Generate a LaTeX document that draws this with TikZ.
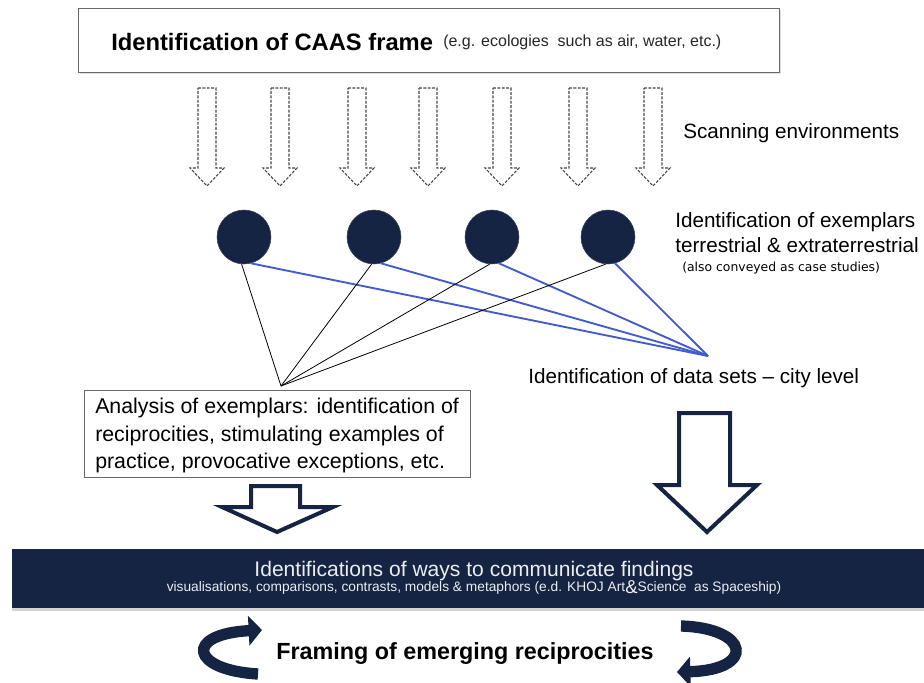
\documentclass[tikz,border=0pt]{standalone}
\usepackage{fontspec}
\setmainfont{Liberation Sans}
\newfontfamily\dejavu{DejaVu Sans}
\usetikzlibrary{arrows.meta,shadows}
\definecolor{navy}{RGB}{20,36,66}
\definecolor{linkblue}{RGB}{66,92,205}
\definecolor{boxgray}{RGB}{105,105,105}
\begin{document}
\begin{tikzpicture}[x=0.75pt,y=-0.75pt,
  framebox/.style={draw=boxgray,line width=1.1pt,fill=white,inner sep=0pt},
  scanarrow/.style={draw=gray!55!black,dash pattern=on 2.2pt off 1.1pt,line width=0.8pt,fill=white},
  exemplar/.style={circle,fill=navy,draw=navy!85,minimum size=40.5pt,inner sep=0pt},
  blackline/.style={draw=black,line width=0.6pt},
  blueline/.style={draw=linkblue,line width=1.4pt},
  blockarrow/.style={draw=navy,line width=3pt,fill=white,line join=miter},
  curvearrow/.style={draw=navy,line width=8.5pt,-{Triangle[length=10pt,width=22pt]}},
  lbl/.style={inner sep=0pt,anchor=base west,font=\fontsize{15.5}{19}\selectfont},
  clbl/.style={inner sep=0pt,anchor=base,text=white!92!navy}
]
\useasboundingbox (0,0) rectangle (924,682);

% top frame
\node (frame) [framebox,anchor=north west,minimum width=525.75pt,minimum height=48pt,
  drop shadow={opacity=0.25,shadow xshift=1pt,shadow yshift=-1.2pt}] at (78,8) {};
\node (frametitle) [lbl,font=\fontsize{17.8}{20}\selectfont\bfseries] at (111,50) {Identification of CAAS frame};
\node (framenote) [inner sep=0pt,anchor=base west,font=\fontsize{12}{14}\selectfont,text=black!85] at (443,46)
  {(e.g. ecologies\ \ such as air, water, etc.)};

% scanning arrows
\foreach \x in {207,280,357,428,502,578,653}
  \draw[scanarrow] (\x-9,88) -- (\x+9,88) -- (\x+9,168) -- (\x+17,168) -- (\x,186)
    -- (\x-17,168) -- (\x-9,168) -- cycle;
\node (scan) [lbl] at (683,138) {Scanning environments};

% exemplars
\node (c1) [exemplar] at (244,237) {};
\node (c2) [exemplar] at (374,237) {};
\node (c3) [exemplar] at (492,237) {};
\node (c4) [exemplar] at (608,237) {};
\node (ex1) [lbl] at (675,227) {Identification of exemplars};
\node (ex2) [lbl] at (675,252) {terrestrial \& extraterrestrial};
\node (ex3) [inner sep=0pt,anchor=base west,font=\dejavu\fontsize{9.3}{11}\selectfont] at (682,271) {(also conveyed as case studies)};

% connectors
\coordinate (apexA) at (281,386);
\coordinate (apexD) at (708,356);
\foreach \c in {c1,c2,c3,c4} {
  \draw[blackline] (\c.265) -- (apexA);
  \draw[blueline] (\c.285) -- (apexD);
}
\node (datasets) [lbl] at (528,383) {Identification of data sets -- city level};

% analysis box
\node (analysis) [framebox,line width=0.9pt,anchor=north west,minimum width=289.5pt,minimum height=65.25pt] at (84,390) {};
\node (an1) [lbl,font=\fontsize{16}{19}\selectfont] at (95,413) {Analysis of exemplars: identification of};
\node (an2) [lbl,font=\fontsize{16}{19}\selectfont] at (95,441) {reciprocities, stimulating examples of};
\node (an3) [lbl,font=\fontsize{16}{19}\selectfont] at (95,468) {practice, provocative exceptions, etc.};

% block arrows
\draw[blockarrow] (251,486) -- (300,486) -- (300,507) -- (333,507) -- (277,532)
  -- (222,507) -- (251,507) -- cycle;
\draw[blockarrow] (679,413) -- (730,413) -- (730,485) -- (757,485) -- (707,532)
  -- (657,485) -- (679,485) -- cycle;

% communication bar
\node (bar) [fill=navy,inner sep=0pt,anchor=north west,minimum width=684pt,minimum height=44.25pt,
  drop shadow={opacity=0.35,shadow xshift=0pt,shadow yshift=-2pt}] at (12,549) {};
\node (bar1) [clbl,font=\fontsize{15.8}{18}\selectfont] at (474,576) {Identifications of ways to communicate findings};
\node (bar2) [clbl,font=\fontsize{10.3}{12}\selectfont] at (474,591)
  {visualisations, comparisons, contrasts, models \& metaphors (e.d. KHOJ Art\raisebox{-0.35ex}{\fontsize{14}{14}\selectfont\&}Science\ \ as Spaceship)};

% framing
\node (framing) [inner sep=0pt,anchor=base,font=\fontsize{17.5}{20}\selectfont\bfseries] at (465,659) {Framing of emerging reciprocities};
\coordinate (lstart) at (258,674);
\coordinate (lend) at (262,630);
\draw[curvearrow] (lstart) .. controls (190,670) and (184,634) .. (lend);
\coordinate (rstart) at (681,626);
\coordinate (rend) at (677,672);
\draw[curvearrow] (rstart) .. controls (750,628) and (756,670) .. (rend);
\end{tikzpicture}
\end{document}
